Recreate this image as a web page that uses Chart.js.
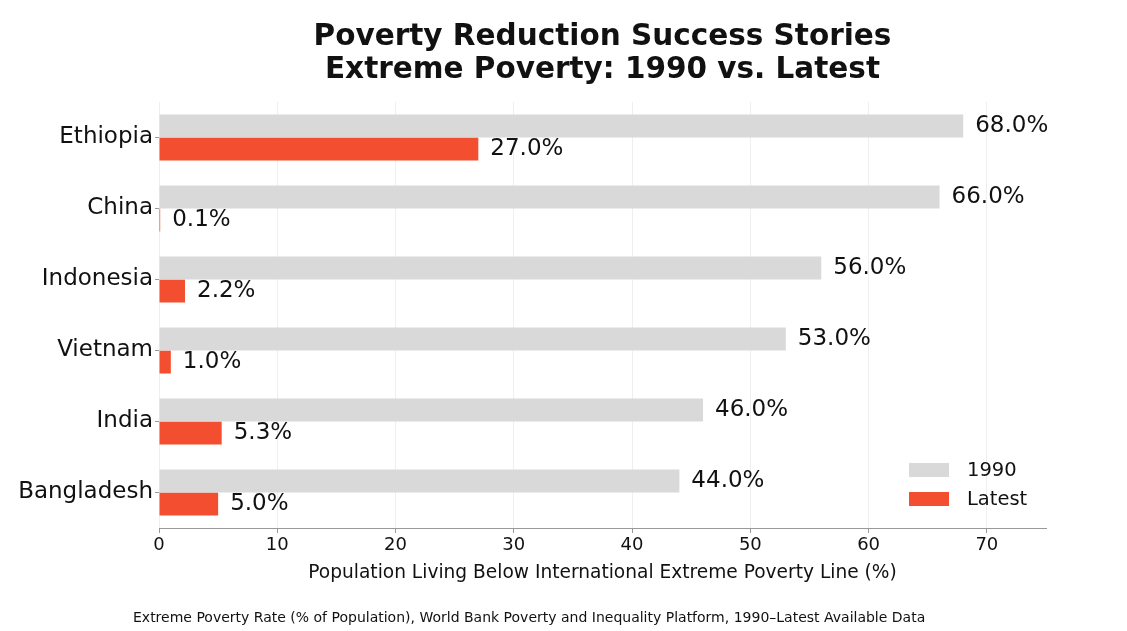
<!DOCTYPE html>
<html lang="en">
<head>
    <meta charset="UTF-8">
    <title>Poverty Reduction Success Stories</title>
    <script src="https://cdn.jsdelivr.net/npm/chart.js"></script>
    <style>
        body {
            margin: 0;
            padding: 0;
            background: #fff;
            font-family: 'DejaVu Sans', sans-serif;
            color: #111;
        }

        .wrap {
            position: relative;
            width: 1127px;
            height: 631px;
        }

        .title {
            position: absolute;
            left: 159px;
            width: 887px;
            top: 19px;
            text-align: center;
            font-weight: bold;
            font-size: 29.5px;
            line-height: 33px;
        }

        .legend {
            position: absolute;
            left: 909px;
            top: 455px;
            font-size: 19.5px;
        }

        .legend div {
            display: flex;
            align-items: center;
            height: 29px;
        }

        .legend span {
            display: inline-block;
            width: 40px;
            height: 14px;
            margin-right: 18px;
        }

        .caption {
            position: absolute;
            left: 133px;
            top: 609px;
            font-size: 14px;
        }

        canvas {
            position: absolute;
            left: 0;
            top: 0;
        }
    </style>
</head>

<body>
    <div class="wrap">
        <canvas id="povertyChart" width="1127" height="631"></canvas>
        <div class="title">Poverty Reduction Success Stories<br>Extreme Poverty: 1990 vs. Latest</div>
        <div class="legend">
            <div><span style="background:#d9d9d9"></span>1990</div>
            <div><span style="background:#f44e30"></span>Latest</div>
        </div>
        <div class="caption">Extreme Poverty Rate (% of Population), World Bank Poverty and Inequality Platform, 1990–Latest Available Data</div>
    </div>

    <script>
        const countries = ['Ethiopia', 'China', 'Indonesia', 'Vietnam', 'India', 'Bangladesh'];
        const rate1990 = [68.0, 66.0, 56.0, 53.0, 46.0, 44.0];
        const rateLatest = [27.0, 0.1, 2.2, 1.0, 5.3, 5.0];
        const xTicks = [0, 10, 20, 30, 40, 50, 60, 70];

        // etiquetas de valor ao lado das barras
        const valueLabels = {
            id: 'valueLabels',
            afterDatasetsDraw(chart) {
                const ctx = chart.ctx;
                ctx.save();
                ctx.font = '23px "DejaVu Sans"';
                ctx.fillStyle = '#111';
                ctx.textBaseline = 'middle';
                ctx.textAlign = 'left';
                chart.data.datasets.forEach((ds, i) => {
                    chart.getDatasetMeta(i).data.forEach((bar, j) => {
                        ctx.fillText(ds.data[j].toFixed(1) + '%', bar.x + 12, bar.y);
                    });
                });
                ctx.restore();
            }
        };

        new Chart(document.getElementById('povertyChart'), {
            type: 'bar',
            data: {
                labels: countries,
                datasets: [
                    { label: '1990', data: rate1990, backgroundColor: '#d9d9d9' },
                    { label: 'Latest', data: rateLatest, backgroundColor: '#f44e30' }
                ]
            },
            options: {
                indexAxis: 'y',
                responsive: false,
                animation: false,
                layout: { padding: { top: 102, right: 81, left: 0, bottom: 0 } },
                datasets: {
                    bar: { categoryPercentage: 0.648, barPercentage: 1.0 }
                },
                plugins: {
                    legend: { display: false },
                    tooltip: { enabled: false }
                },
                scales: {
                    x: {
                        min: 0,
                        max: 75,
                        afterFit(scale) { scale.height = 103; },
                        afterBuildTicks(scale) { scale.ticks = xTicks.map(v => ({ value: v })); },
                        ticks: {
                            font: { family: 'DejaVu Sans', size: 18 },
                            color: '#111',
                            padding: 2
                        },
                        grid: { color: '#efefef', tickColor: '#999', tickLength: 5 },
                        border: { color: '#999' },
                        title: {
                            display: true,
                            text: 'Population Living Below International Extreme Poverty Line (%)',
                            font: { family: 'DejaVu Sans', size: 18.6 },
                            color: '#111',
                            padding: { bottom: 47 }
                        }
                    },
                    y: {
                        afterFit(scale) { scale.width = 159; },
                        ticks: {
                            font: { family: 'DejaVu Sans', size: 23 },
                            color: '#111',
                            padding: 2
                        },
                        grid: { offset: false, drawOnChartArea: false, tickColor: '#999', tickLength: 4 },
                        border: { display: false }
                    }
                }
            },
            plugins: [valueLabels]
        });
    </script>
</body>
</html>
